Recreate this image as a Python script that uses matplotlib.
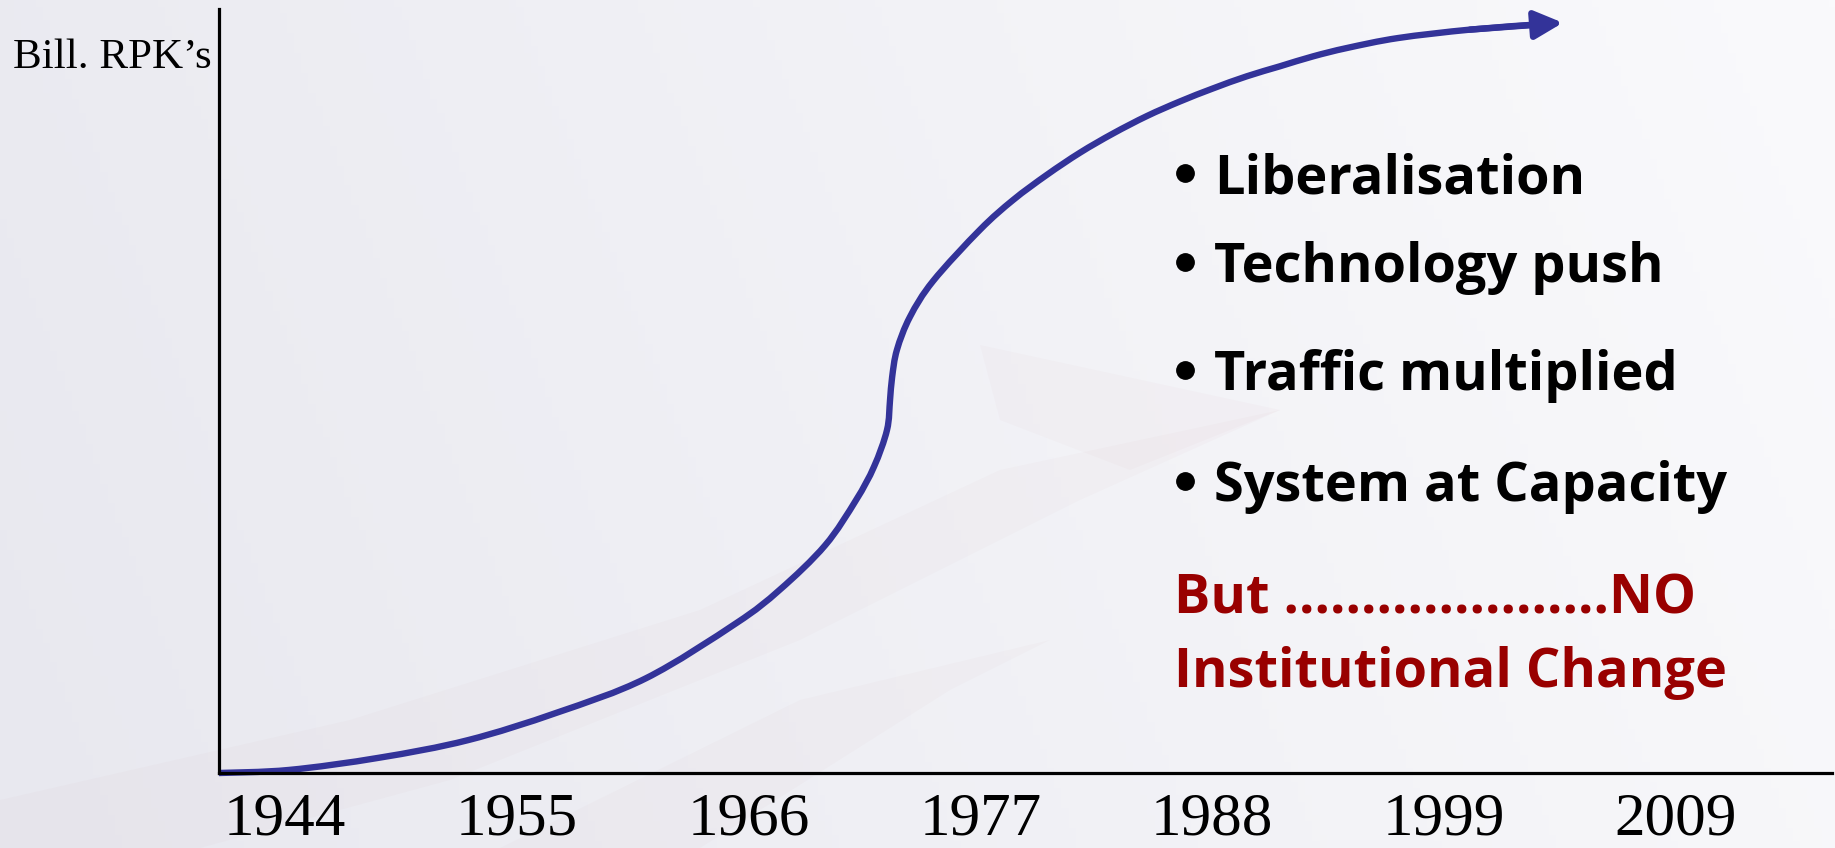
import numpy as np
import matplotlib
matplotlib.use("Agg")
import matplotlib.pyplot as plt
from matplotlib.patches import FancyArrowPatch, Polygon, PathPatch
from matplotlib.path import Path
from matplotlib.lines import Line2D

# tick labels (evenly spaced along the x axis)
years = ["1944", "1955", "1966", "1977", "1988", "1999", "2009"]

# growth curve, x in label-slot units (0 = 1944 ... 6 = 2009), y in % of axis height
curve_x = [-0.285, 0.017, 0.406, 0.789, 1.173, 1.557, 1.946, 2.135, 2.330, 2.463,
           2.541, 2.597, 2.610, 2.619, 2.640, 2.696, 2.796, 2.998, 3.141,
           3.287, 3.430, 3.572, 3.719, 3.861, 4.003, 4.150, 4.292, 4.435, 4.582,
           4.802, 5.112, 5.414]
curve_y = [0.0, 0.4, 2.0, 4.3, 7.9, 12.4, 19.6, 24.0, 29.8, 35.7,
           40.1, 44.9, 48.8, 51.8, 55.4, 59.7, 64.4, 71.1, 75.0,
           78.3, 81.2, 83.7, 86.0, 87.9, 89.6, 91.2, 92.5, 93.8, 94.9,
           96.2, 97.3, 98.0]
tip = (5.513, 98.2)

bullets = ["Liberalisation", "Technology push", "Traffic multiplied", "System at Capacity"]
bullet_base = [193, 282, 390, 501]
note_lines = ["But " + "." * 21 + "NO", "Institutional Change"]
note_base = [614, 687]

W, H = 1835, 848
fig = plt.figure(figsize=(W / 100, H / 100), dpi=100)

# background gradient
bg = fig.add_axes([0, 0, 1, 1])
gx = np.linspace(0, 1, 256)
gy = np.linspace(0, 1, 128)
GX, GY = np.meshgrid(gx, gy)
left = np.array([232, 232, 239]) / 255
right = np.array([250, 250, 252]) / 255
t = np.clip(GX * 0.85 + (1 - GY) * 0.15, 0, 1)[..., None]
img = left * (1 - t) + right * t
bg.imshow(img, extent=[0, W, H, 0], aspect="auto")
# faint watermark swooshes
sw1 = [(0, 848), (0, 800), (350, 720), (700, 610), (1000, 470), (1280, 410),
       (1080, 500), (800, 640), (450, 780), (200, 848)]
sw2 = [(980, 345), (1280, 410), (1130, 470), (1000, 420)]
sw3 = [(500, 848), (800, 700), (1050, 640), (1150, 590), (950, 690), (700, 848)]
for pts in (sw1, sw2, sw3):
    bg.add_patch(Polygon(pts, closed=True, facecolor=(0.75, 0.45, 0.5), alpha=0.03, lw=0))
bg.set_xlim(0, W)
bg.set_ylim(H, 0)
bg.axis("off")

# main axes
ax0, ay0 = 219, 773
ax = fig.add_axes([ax0 / W, (H - ay0) / H, (1832 - ax0) / W, (ay0 - 9) / H])
ax.set_facecolor("none")
ax.set_xlim(-0.285, 6.674)
ax.set_ylim(0, 100)
for s in ["top", "right"]:
    ax.spines[s].set_visible(False)
for s in ["left", "bottom"]:
    ax.spines[s].set_linewidth(2.3)
    ax.spines[s].set_color("black")
ax.set_yticks([])
ax.set_xticks(range(len(years)))
ax.set_xticklabels(years, fontfamily="Liberation Serif", fontsize=44)
ax.tick_params(axis="x", length=0, pad=14)

blue = "#333399"
# smooth curve through the read points (Catmull-Rom drawn as cubic Bezier segments)
P = np.column_stack([curve_x, curve_y])
Pe = np.vstack([P[0], P, P[-1]])
verts = [P[0]]
codes = [Path.MOVETO]
for i in range(len(P) - 1):
    p0, p1, p2, p3 = Pe[i], Pe[i + 1], Pe[i + 2], Pe[i + 3]
    verts += [p1 + (p2 - p0) / 6, p2 - (p3 - p1) / 6, p2]
    codes += [Path.CURVE4] * 3
ax.add_patch(PathPatch(Path(verts, codes), fill=False, edgecolor=blue, lw=4.6,
                       capstyle="butt", clip_on=False))
ax.add_patch(FancyArrowPatch((curve_x[-2], curve_y[-2]), tip,
                             arrowstyle="-|>,head_length=17,head_width=8.5",
                             mutation_scale=1, color=blue, lw=4.6,
                             shrinkA=0, shrinkB=0, clip_on=False))

fig.text(13 / W, 1 - 68 / H, "Bill. RPK\u2019s", fontfamily="Liberation Serif",
         fontsize=31, va="baseline", ha="left")

font = dict(fontfamily="Open Sans", fontweight="bold", fontsize=39,
            va="baseline", ha="left")
for txt, b in zip(bullets, bullet_base):
    fig.add_artist(Line2D([1185 / W], [1 - (b - 20) / H], marker="o", ms=12.5,
                          color="black", transform=fig.transFigure))
    fig.text(1214 / W, 1 - b / H, txt, **font)

for txt, b in zip(note_lines, note_base):
    fig.text(1174 / W, 1 - b / H, txt, color="#990000", **font)

fig.savefig("out.png", dpi=100)
